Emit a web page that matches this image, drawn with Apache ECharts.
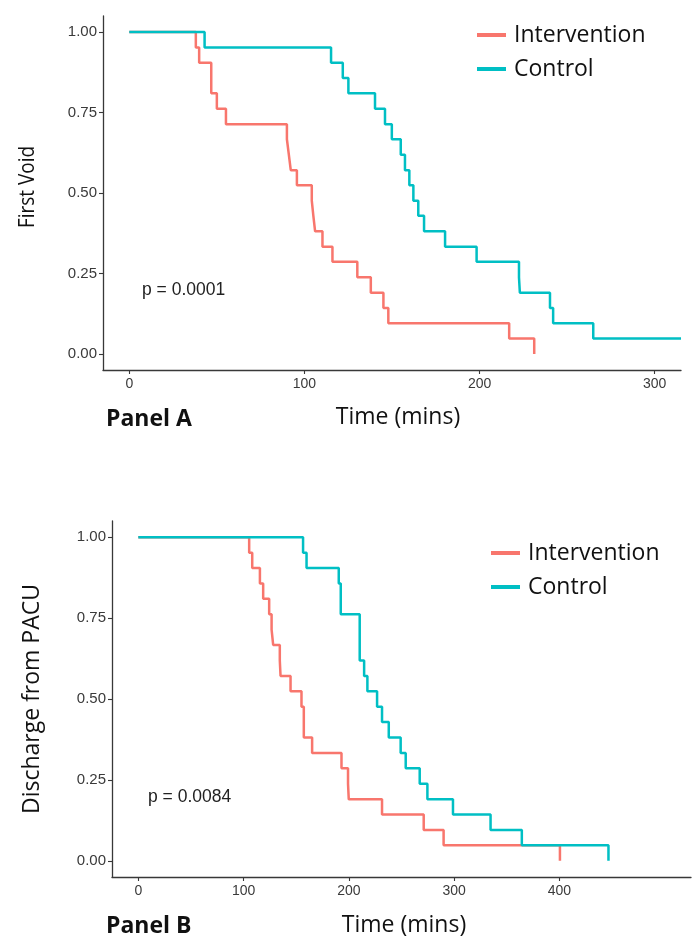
<!DOCTYPE html>
<html>
<head>
<meta charset="utf-8">
<script src="https://cdn.jsdelivr.net/npm/echarts@6/dist/echarts.min.js"></script>
<style>
  html, body { margin: 0; padding: 0; background: #fff; }
  #chart { width: 700px; height: 946px; }
</style>
</head>
<body>
<div id="chart"></div>
<script>
// ---------- Data ----------
const groups = ['Intervention', 'Control'];
const colors = ['#F8766D', '#00BFC4'];

// Panel A: First Void
const timeA_int = [0, 38.0, 39.9, 46.8, 50.0, 55.2, 90.0, 91.1, 92.2, 95.7, 104.2, 105.1, 106.1, 110.3, 116.0, 130.2, 137.9, 145.1, 147.9, 216.9, 231.2];
const survA_int = [1, 0.952, 0.905, 0.810, 0.762, 0.714, 0.667, 0.619, 0.571, 0.524, 0.476, 0.429, 0.381, 0.333, 0.286, 0.238, 0.190, 0.143, 0.095, 0.048, 0];
const timeA_ctl = [0, 43.0, 115.2, 121.9, 125.1, 140.3, 146.0, 149.9, 155.0, 157.4, 159.9, 162.2, 165.0, 168.3, 180.3, 198.3, 222.5, 223.0, 240.2, 242.0, 264.9, 315];
const survA_ctl = [1, 0.952, 0.905, 0.857, 0.810, 0.762, 0.714, 0.667, 0.619, 0.571, 0.524, 0.476, 0.429, 0.381, 0.333, 0.286, 0.238, 0.190, 0.143, 0.095, 0.048, 0.048];

// Panel B: Discharge from PACU
const timeB_int = [0, 105.3, 108.2, 115.5, 118.6, 124.3, 126.6, 128.1, 134.4, 135.1, 144.6, 155.0, 157.2, 165.1, 193.0, 199.2, 199.9, 231.5, 271.1, 290.0, 400.5];
const survB_int = [1, 0.952, 0.905, 0.857, 0.810, 0.762, 0.714, 0.667, 0.619, 0.571, 0.524, 0.476, 0.381, 0.333, 0.286, 0.238, 0.190, 0.143, 0.095, 0.048, 0];
const timeB_ctl = [0, 156.5, 159.8, 190.4, 192.3, 210.3, 214.5, 217.6, 226.8, 231.5, 237.9, 249.2, 254.0, 267.3, 274.6, 298.9, 334.6, 364.3, 446.6];
const survB_ctl = [1, 0.952, 0.905, 0.857, 0.762, 0.619, 0.571, 0.524, 0.476, 0.429, 0.381, 0.333, 0.286, 0.238, 0.190, 0.143, 0.095, 0.048, 0];

const xTicksA = [0, 100, 200, 300];
const xTicksB = [0, 100, 200, 300, 400];
const yTicks = [0, 0.25, 0.5, 0.75, 1];

const yTitleA = 'First Void';
const yTitleB = 'Discharge from PACU';
const xTitle = 'Time (mins)';
const pA = 'p = 0.0001';
const pB = 'p = 0.0084';
const panelA = 'Panel A';
const panelB = 'Panel B';

// ---------- Build ----------
function pairs(t, s) { return t.map((v, i) => [v, s[i]]); }

const axisCol = '#383838';

function xAxisDef(gi, min, max, ticks) {
  return {
    type: 'value', gridIndex: gi, min: min, max: max,
    splitLine: { show: false },
    axisLine: { show: true, onZero: false, lineStyle: { color: axisCol, width: 1.3 } },
    axisTick: { show: true, length: 4, customValues: ticks, lineStyle: { color: axisCol, width: 1.1 } },
    axisLabel: { customValues: ticks, margin: 7, fontFamily: 'Liberation Sans', fontSize: 14, color: '#3a3a3a' }
  };
}
function yAxisDef(gi) {
  return {
    type: 'value', gridIndex: gi, min: -0.05, max: 1.05,
    splitLine: { show: false },
    axisLine: { show: true, onZero: false, lineStyle: { color: axisCol, width: 1.3 } },
    axisTick: { show: true, length: 4, customValues: yTicks, lineStyle: { color: axisCol, width: 1.1 } },
    axisLabel: { customValues: yTicks, margin: 6, formatter: v => v.toFixed(2),
                 fontFamily: 'Liberation Sans', fontSize: 15, color: '#3a3a3a' }
  };
}
function stepSeries(name, ci, gi, data) {
  return {
    name: name, type: 'line', step: 'end', xAxisIndex: gi, yAxisIndex: gi,
    data: data, showSymbol: false, symbol: 'none', clip: false,
    color: colors[ci],
    lineStyle: { color: colors[ci], width: 2.5 },
    animation: false
  };
}
function legendDef(left, top) {
  return {
    orient: 'vertical', left: left, top: top, padding: 0,
    data: groups.map((g, i) => ({ name: g, icon: 'rect', itemStyle: { color: colors[i] } })),
    itemWidth: 29, itemHeight: 4, itemGap: 10,
    selectedMode: false,
    textStyle: { fontFamily: 'Open Sans', fontSize: 23, lineHeight: 24, color: '#111', padding: [0, 0, 0, 3] }
  };
}
function txt(text, x, y, opts) {
  return {
    type: 'text', x: x, y: y, rotation: (opts && opts.rot) || 0,
    scaleX: (opts && opts.sx) || 1,
    style: Object.assign({
      text: text, textAlign: 'center', textVerticalAlign: 'middle',
      fontFamily: 'Open Sans', fontSize: 23, fill: '#111'
    }, (opts && opts.style) || {})
  };
}

const chart = echarts.init(document.getElementById('chart'), null, { renderer: 'canvas' });
chart.setOption({
  animation: false,
  backgroundColor: '#fff',
  grid: [
    { left: 103, top: 16, width: 578, height: 354 },
    { left: 112, top: 521, width: 579, height: 356 }
  ],
  xAxis: [xAxisDef(0, -15, 315, xTicksA), xAxisDef(1, -25, 525, xTicksB)],
  yAxis: [yAxisDef(0), yAxisDef(1)],
  legend: [legendDef(477, 23), legendDef(491, 541)],
  series: [
    stepSeries(groups[0], 0, 0, pairs(timeA_int, survA_int)),
    stepSeries(groups[1], 1, 0, pairs(timeA_ctl, survA_ctl)),
    stepSeries(groups[0], 0, 1, pairs(timeB_int, survB_int)),
    stepSeries(groups[1], 1, 1, pairs(timeB_ctl, survB_ctl))
  ],
  graphic: [
    txt(yTitleA, 28, 187, { rot: Math.PI / 2, sx: 0.86, style: { fontSize: 22 } }),
    txt(yTitleB, 32, 699, { rot: Math.PI / 2, style: { fontSize: 23 } }),
    txt(xTitle, 398, 417, {}),
    txt(xTitle, 404, 925, {}),
    txt(panelA, 106, 419, { style: { textAlign: 'left', fontWeight: 'bold' } }),
    txt(panelB, 106, 926, { style: { textAlign: 'left', fontWeight: 'bold' } }),
    txt(pA, 142, 290, { style: { textAlign: 'left', fontFamily: 'Liberation Sans', fontSize: 17.5, fill: '#222' } }),
    txt(pB, 148, 797, { style: { textAlign: 'left', fontFamily: 'Liberation Sans', fontSize: 17.5, fill: '#222' } })
  ]
});
</script>
</body>
</html>
